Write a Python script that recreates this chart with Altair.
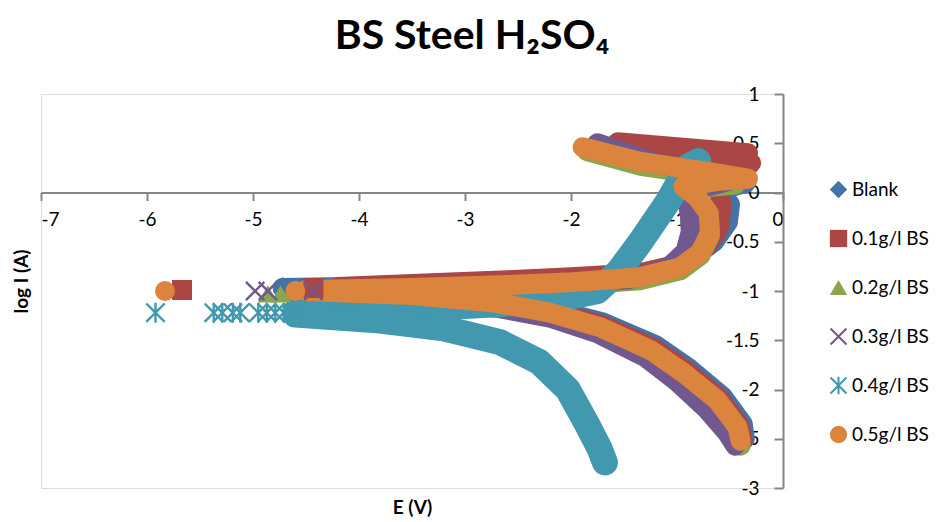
import math
import altair as alt
import pandas as pd

# ---------------- data ----------------
SERIES = ["Blank", "0.1g/l BS", "0.2g/l BS", "0.3g/l BS", "0.4g/l BS", "0.5g/l BS"]
COLORS = ["#4572A7", "#AA4643", "#89A54E", "#71588F", "#4198AF", "#DB843D"]

X_TICKS = [-7, -6, -5, -4, -3, -2, -1, 0]
Y_TICKS = [-3, -2.5, -2, -1.5, -1, -0.5, 0, 0.5, 1]

# Blank
blank_up_x = [-4.72, -3.5, -2.6, -1.98, -1.3, -0.9, -0.65, -0.52, -0.5, -0.6, -0.35, -0.9, -1.65]
blank_up_y = [-0.97, -0.95, -0.92, -0.89, -0.83, -0.70, -0.50, -0.30, -0.12, 0.02, 0.10, 0.22, 0.42]
blank_lo_x = [-4.72, -3.5, -2.7, -2.2, -1.7, -1.2, -0.88, -0.57, -0.38, -0.36]
blank_lo_y = [-0.97, -1.02, -1.09, -1.18, -1.32, -1.55, -1.79, -2.07, -2.35, -2.50]
blank_pt_x = [-4.72]
blank_pt_y = [-0.96]

# 0.1 g/l
c01_up_x = [-4.2, -3.5, -2.6, -2.0, -1.35, -0.95, -0.72, -0.6, -0.58, -0.6, -0.3, -1.56, -1.56, -0.33]
c01_up_y = [-0.96, -0.93, -0.89, -0.86, -0.82, -0.72, -0.55, -0.35, -0.12, 0.0, 0.30, 0.44, 0.51, 0.40]
c01_lo_x = [-4.2, -3.5, -2.7, -2.2, -1.7, -1.22, -0.91, -0.6, -0.41, -0.38]
c01_lo_y = [-1.0, -1.03, -1.11, -1.20, -1.35, -1.58, -1.81, -2.09, -2.37, -2.52]
c01_pt_x = [-5.67, -4.43]
c01_pt_y = [-0.99, -0.97]

# 0.2 g/l
c02_up_x = [-4.6, -3.5, -2.6, -1.98, -1.35, -0.97, -0.78, -0.69, -0.70, -0.80, -0.94, -0.45, -0.71, -1.34, -1.85]
c02_up_y = [-1.01, -0.99, -0.96, -0.94, -0.89, -0.79, -0.64, -0.44, -0.23, -0.07, 0.03, 0.08, 0.17, 0.27, 0.42]
c02_lo_x = [-4.6, -3.5, -2.7, -2.2, -1.72, -1.25, -0.94, -0.62, -0.45, -0.40]
c02_lo_y = [-1.02, -1.06, -1.14, -1.24, -1.39, -1.62, -1.86, -2.14, -2.42, -2.57]
c02_pt_x = [-4.86, -4.74]
c02_pt_y = [-1.03, -1.03]

# 0.3 g/l
c03_up_x = [-4.5, -3.5, -2.6, -1.98, -1.45, -1.1, -0.92, -0.87, -0.88, -0.93, -0.5, -1.2, -1.75]
c03_up_y = [-1.0, -0.98, -0.96, -0.93, -0.88, -0.78, -0.60, -0.40, -0.20, 0.0, 0.12, 0.30, 0.50]
c03_lo_x = [-4.5, -3.5, -2.7, -2.2, -1.75, -1.3, -1.0, -0.72, -0.52, -0.45]
c03_lo_y = [-1.03, -1.08, -1.17, -1.27, -1.43, -1.67, -1.92, -2.20, -2.45, -2.57]
c03_pt_x = [-4.98, -4.86, -4.43]
c03_pt_y = [-1.0, -1.0, -1.0]

# 0.4 g/l
c04_up_x = [-4.6, -3.5, -2.6, -2.1, -1.75, -1.55, -1.35, -1.09, -0.9, -0.8]
c04_up_y = [-1.21, -1.18, -1.13, -1.08, -1.0, -0.80, -0.51, -0.10, 0.26, 0.32]
c04_lo_x = [-4.6, -3.8, -3.2, -2.67, -2.3, -2.03, -1.85, -1.73, -1.68]
c04_lo_y = [-1.24, -1.30, -1.38, -1.52, -1.72, -2.0, -2.35, -2.60, -2.74]
c04_pt_x = [-5.92, -5.37, -5.29, -5.19, -5.12, -4.95, -4.87, -4.79, -4.71, -4.63]
c04_pt_y = [-1.22, -1.22, -1.22, -1.22, -1.22, -1.22, -1.22, -1.22, -1.22, -1.22]

# 0.5 g/l
c05_up_x = [-4.5, -3.5, -2.6, -1.98, -1.35, -0.97, -0.78, -0.69, -0.70, -0.81, -0.94, -0.6, -0.33, -0.71, -1.34, -1.89]
c05_up_y = [-0.99, -0.97, -0.94, -0.91, -0.86, -0.76, -0.61, -0.41, -0.21, -0.05, 0.06, 0.12, 0.14, 0.21, 0.31, 0.46]
c05_lo_x = [-4.5, -3.5, -2.7, -2.2, -1.72, -1.25, -0.94, -0.62, -0.43, -0.40]
c05_lo_y = [-1.0, -1.04, -1.12, -1.22, -1.37, -1.60, -1.83, -2.11, -2.38, -2.52]
c05_pt_x = [-5.83, -4.60]
c05_pt_y = [-1.0, -1.0]

BRANCHES = [
    (blank_up_x, blank_up_y, blank_lo_x, blank_lo_y, blank_pt_x, blank_pt_y),
    (c01_up_x, c01_up_y, c01_lo_x, c01_lo_y, c01_pt_x, c01_pt_y),
    (c02_up_x, c02_up_y, c02_lo_x, c02_lo_y, c02_pt_x, c02_pt_y),
    (c03_up_x, c03_up_y, c03_lo_x, c03_lo_y, c03_pt_x, c03_pt_y),
    (c04_up_x, c04_up_y, c04_lo_x, c04_lo_y, c04_pt_x, c04_pt_y),
    (c05_up_x, c05_up_y, c05_lo_x, c05_lo_y, c05_pt_x, c05_pt_y),
]

# ---------------- marker shapes ----------------
def star_path(angles, lengths, a):
    order = sorted(range(len(angles)), key=lambda i: angles[i])
    angs = [math.radians(angles[i]) for i in order]
    lens = [lengths[i] for i in order]
    pts = []
    n = len(angs)
    for k in range(n):
        t = angs[k]
        L = lens[k]
        dx, dy = math.cos(t), math.sin(t)
        nx, ny = -dy, dx
        pts.append((L * dx - a * nx, L * dy - a * ny))
        pts.append((L * dx + a * nx, L * dy + a * ny))
        t2 = angs[(k + 1) % n]
        delta = (t2 - t) % (2 * math.pi)
        mid = t + delta / 2
        r = a / math.sin(delta / 2)
        pts.append((r * math.cos(mid), r * math.sin(mid)))
    return "M" + "L".join(f"{px:.3f},{py:.3f}" for px, py in pts) + "Z"

X_SHAPE = star_path([45, 135, 225, 315], [1.3, 1.3, 1.3, 1.3], 0.12)
AST_SHAPE = star_path([45, 90, 135, 225, 270, 315], [1.3, 1.0, 1.3, 1.3, 1.0, 1.3], 0.12)
SHAPES = ["diamond", "square", "triangle-up", X_SHAPE, AST_SHAPE, "circle"]

# ---------------- layout ----------------
W, H = 742, 394
FONT = "Lato"
XDOM = [-7, 0]
YDOM = [-3, 1]

rows_line = []
rows_pt = []
for s, (ux, uy, lx, ly, px, py) in zip(SERIES, BRANCHES):
    for i, (xx, yy) in enumerate(zip(ux, uy)):
        rows_line.append({"series": s, "branch": "up", "i": i, "x": xx, "y": yy})
    for i, (xx, yy) in enumerate(zip(lx, ly)):
        rows_line.append({"series": s, "branch": "lo", "i": i, "x": xx, "y": yy})
    for xx, yy in zip(px, py):
        rows_pt.append({"series": s, "x": xx, "y": yy})

df_line = pd.DataFrame(rows_line)
df_pt = pd.DataFrame(rows_pt)

xscale = alt.Scale(domain=XDOM, nice=False, zero=False)
yscale = alt.Scale(domain=YDOM, nice=False, zero=False)

layers = []
for s, col in zip(SERIES, COLORS):
    sw = 26 if s == "0.4g/l BS" else 20
    part = df_line[df_line["series"] == s]
    layers.append(
        alt.Chart(part)
        .mark_line(strokeWidth=sw, strokeCap="round", strokeJoin="round", clip=False)
        .encode(
            x=alt.X("x:Q", scale=xscale),
            y=alt.Y("y:Q", scale=yscale),
            detail="branch:N",
            order="i:Q",
            color=alt.value(col),
        )
    )

LEGEND = alt.Legend(
    orient="none",
    legendX=788,
    legendY=86,
    symbolSize=300,
    symbolStrokeWidth=0,
    labelFontSize=19,
    labelFont=FONT,
    labelColor="#000000",
    rowPadding=29,
    labelOffset=4,
    padding=0,
)

points = (
    alt.Chart(df_pt)
    .mark_point(filled=True, size=400, opacity=1)
    .encode(
        x=alt.X("x:Q", scale=xscale),
        y=alt.Y("y:Q", scale=yscale),
        color=alt.Color(
            "series:N",
            scale=alt.Scale(domain=SERIES, range=COLORS),
            title=None,
            legend=LEGEND,
        ),
        shape=alt.Shape(
            "series:N",
            scale=alt.Scale(domain=SERIES, range=SHAPES),
            title=None,
            legend=LEGEND,
        ),
    )
)

LABEL_EXPR = "toString(datum.value)"

x_axis_layer = alt.Chart(pd.DataFrame({"x": X_TICKS})).mark_point(opacity=0).encode(
    x=alt.X(
        "x:Q",
        scale=xscale,
        axis=alt.Axis(
            values=X_TICKS,
            offset=-0.75 * H,
            title="E (V)",
            titleFont=FONT,
            titleFontSize=19,
            titleFontWeight="bold",
            titleY=306,
            grid=False,
            domainColor="#868686",
            domainWidth=2,
            tickColor="#868686",
            tickWidth=2,
            tickSize=8,
            labelFont=FONT,
            labelFontSize=19,
            labelColor="#000000",
            labelPadding=10,
            labelExpr=LABEL_EXPR,
        ),
    ),
)

y_axis_layer = alt.Chart(pd.DataFrame({"y": Y_TICKS})).mark_point(opacity=0).encode(
    y=alt.Y(
        "y:Q",
        scale=yscale,
        axis=alt.Axis(
            values=Y_TICKS,
            orient="left",
            offset=-W,
            title="log I (A)",
            titleFont=FONT,
            titleFontSize=19,
            titleFontWeight="bold",
            titleAngle=270,
            titleX=-W - 20,
            titleY=H / 2 - 10,
            titleAlign="center",
            titleBaseline="middle",
            grid=False,
            domainColor="#868686",
            domainWidth=2,
            tickColor="#868686",
            tickWidth=2,
            tickSize=9,
            labelFont=FONT,
            labelFontSize=19,
            labelColor="#000000",
            labelPadding=15,
            labelExpr=LABEL_EXPR,
        ),
    ),
)

chart = (
    alt.layer(x_axis_layer, y_axis_layer, *layers, points)
    .properties(
        width=W,
        height=H,
        padding={"left": 33, "top": 86, "right": 159, "bottom": 30},
        autosize=alt.AutoSizeParams(type="none"),
        title=alt.TitleParams(
            "BS Steel H₂SO₄",
            font=FONT,
            fontSize=41,
            fontWeight="bold",
            color="#000000",
            anchor="middle",
            dx=60,
            offset=27,
        ),
    )
    .configure_view(stroke=None)
    .configure(background="white")
)

chart.save("out.html", embed_options={"renderer": "svg", "actions": False})
